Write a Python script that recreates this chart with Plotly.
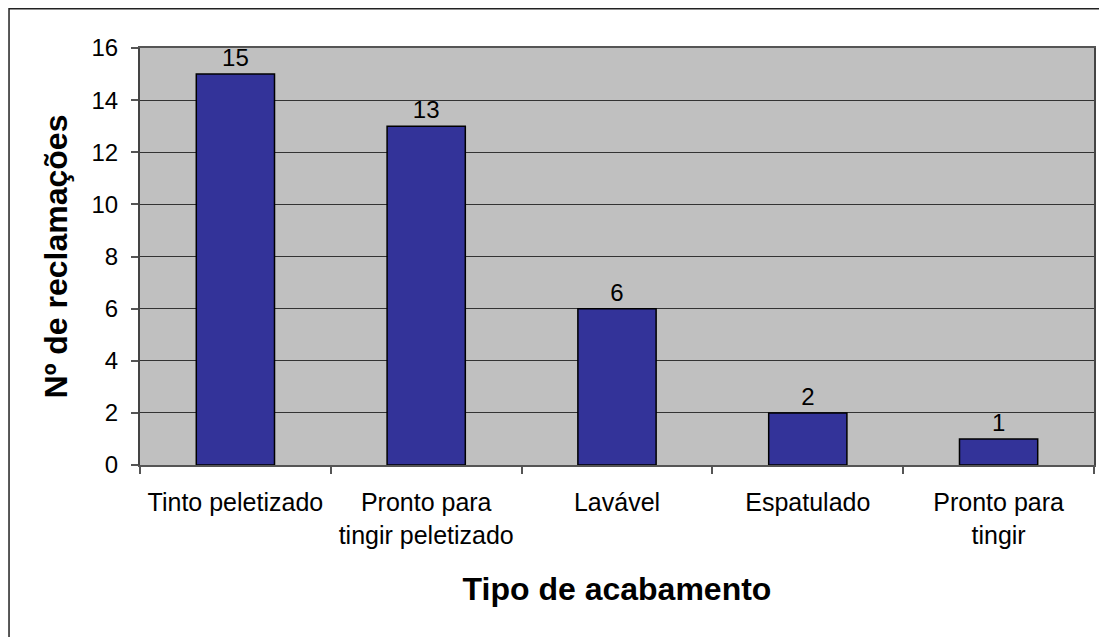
import plotly.graph_objects as go

# Data
categories = [
    "Tinto peletizado",
    "Pronto para<br>tingir peletizado",
    "Lavável",
    "Espatulado",
    "Pronto para<br>tingir",
]
reclamacoes = [15, 13, 6, 2, 1]
y_ticks = [0, 2, 4, 6, 8, 10, 12, 14, 16]

FONT = "Arial, Liberation Sans, sans-serif"
# the page body adds an 8px margin, so the figure is 8px smaller each way
W, H = 1099, 629
L, R, T, B = 132, 11, 40, 172

fig = go.Figure()

fig.add_trace(go.Bar(
    x=categories,
    y=reclamacoes,
    marker=dict(color="#333399", line=dict(color="#000000", width=1.5)),
    text=[str(v) for v in reclamacoes],
    textposition="outside",
    textfont=dict(family=FONT, size=24, color="#000000"),
    cliponaxis=False,
    hoverinfo="x+y",
))

# outer chart border (runs off the right and bottom like the reference crop)
pw, ph = W - L - R, H - T - B
fig.add_shape(
    type="rect", xref="paper", yref="paper",
    x0=(0.75 - L) / pw, x1=(W + 10 - L) / pw,
    y0=-(B + 10) / ph, y1=((H - B) - 0.75) / ph,
    line=dict(color="#222222", width=1.5), fillcolor="rgba(0,0,0,0)",
    layer="below",
)

fig.update_layout(
    width=W, height=H,
    margin=dict(l=L, r=R, t=T, b=B),
    paper_bgcolor="white",
    plot_bgcolor="#C0C0C0",
    bargap=0.59,
    showlegend=False,
    font=dict(family=FONT, size=24, color="#000000"),
)

fig.update_xaxes(
    type="category",
    tickson="boundaries",
    ticks="outside", ticklen=7, tickcolor="#555555", tickwidth=1.5,
    showline=True, linecolor="#555555", linewidth=2, mirror=True,
    showgrid=False,
    ticklabelstandoff=14,
    tickfont=dict(family=FONT, size=25),
    title=dict(text="<b>Tipo de acabamento</b>", font=dict(family=FONT, size=32), standoff=30),
)

fig.update_yaxes(
    range=[0, 16],
    tickvals=y_ticks,
    ticks="outside", ticklen=7, tickcolor="#555555", tickwidth=1.5,
    showline=True, linecolor="#444444", linewidth=2, mirror=True,
    showgrid=True, gridcolor="#333333", gridwidth=1,
    zeroline=False,
    ticklabelstandoff=8,
    tickfont=dict(family=FONT, size=24),
    title=dict(text="<b>Nº de reclamações</b>", font=dict(family=FONT, size=32), standoff=14),
)

fig.write_html("out.html")
